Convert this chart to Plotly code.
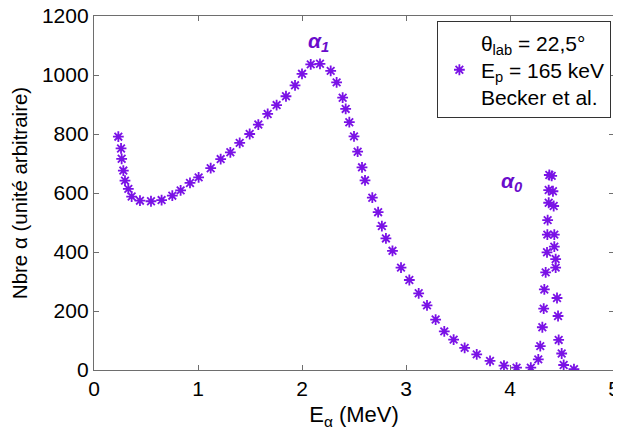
import plotly.graph_objects as go

# Data
energy_mev = [0.234, 0.26, 0.266, 0.282, 0.298, 0.33, 0.362, 0.442, 0.548, 0.65,
              0.753, 0.833, 0.923, 1.006, 1.122, 1.218, 1.311, 1.401, 1.497, 1.580,
              1.670, 1.756, 1.846, 1.933, 2.0, 2.084, 2.173, 2.276, 2.333, 2.391,
              2.420, 2.455, 2.5, 2.535, 2.577, 2.606, 2.676, 2.732, 2.768, 2.807,
              2.870, 2.952, 3.032, 3.122, 3.202, 3.285, 3.368, 3.458, 3.564, 3.680,
              3.808, 3.942, 4.063, 4.200, 4.272, 4.291, 4.311, 4.324, 4.330, 4.343,
              4.356, 4.359, 4.362, 4.372, 4.372, 4.378, 4.401, 4.413, 4.420, 4.426,
              4.426, 4.439, 4.439, 4.452, 4.462, 4.468, 4.497, 4.516, 4.615]
counts = [791, 751, 716, 676, 642, 614, 588, 574, 572, 576,
          591, 609, 634, 653, 684, 715, 738, 770, 800, 832,
          868, 898, 928, 965, 1004, 1036, 1038, 1014, 975, 923,
          885, 840, 792, 740, 687, 643, 584, 535, 488, 446,
          404, 347, 305, 260, 219, 171, 131, 103, 75, 53,
          31, 15, 8, 8, 36, 81, 145, 208, 273, 331,
          399, 459, 508, 567, 610, 661, 658, 606, 556, 459,
          418, 376, 347, 244, 183, 102, 56, 17, 3]

x_ticks = [0, 1, 2, 3, 4, 5]
y_ticks = [0, 200, 400, 600, 800, 1000, 1200]

peak_labels = ["α<sub>1</sub>", "α<sub>0</sub>"]
peak_x = [2.16, 4.02]
peak_y = [1112, 637]

series_name = "θ<sub>lab</sub> = 22,5°<br>E<sub>p</sub> = 165 keV<br>Becker et al."

MARK = "#7a12e6"
LABEL = "#6a0ccc"
AXIS = "#6e6e6e"
FONT = "Liberation Sans, Arial, sans-serif"

fig = go.Figure()
fig.add_trace(go.Scatter(
    x=energy_mev, y=counts, mode="markers", name=series_name,
    marker=dict(symbol="asterisk-open", size=9, color=MARK,
                line=dict(color=MARK, width=1.8)),
))

for t, xx, yy in zip(peak_labels, peak_x, peak_y):
    fig.add_annotation(x=xx, y=yy, text="<b><i>" + t + "</i></b>",
                       showarrow=False, font=dict(size=21, color=LABEL, family=FONT))

axis_common = dict(
    showgrid=False, zeroline=False, showline=True, linecolor=AXIS, linewidth=1.3,
    mirror="ticks", ticks="inside", ticklen=5, tickcolor=AXIS, tickwidth=1,
    tickfont=dict(size=21, color="black", family=FONT),
    automargin=False, ticklabeloverflow="allow",
)

fig.update_xaxes(range=[0, 5], tickvals=x_ticks, ticktext=[str(v) for v in x_ticks],
                 title=dict(text="E<sub>α</sub> (MeV)", font=dict(size=22, family=FONT, color="black"),
                            standoff=14),
                 **axis_common)
fig.update_yaxes(range=[0, 1200], tickvals=y_ticks, ticktext=[str(v) for v in y_ticks],
                 title=dict(text="Nbre α (unité arbitraire)", font=dict(size=20.5, family=FONT, color="black"),
                            standoff=8),
                 **axis_common)

# the page body adds an 8 px offset, so the figure is sized and margined to compensate
fig.update_layout(
    width=613, height=422,
    margin=dict(l=86, r=7, t=8, b=60),
    paper_bgcolor="white", plot_bgcolor="white",
    showlegend=True,
    legend=dict(x=0.994, y=0.985, xanchor="right", yanchor="top",
                bordercolor="#333", borderwidth=1, bgcolor="white",
                font=dict(size=21, family=FONT, color="black"),
                itemsizing="trace", itemwidth=33),
)

fig.write_html("out.html")
